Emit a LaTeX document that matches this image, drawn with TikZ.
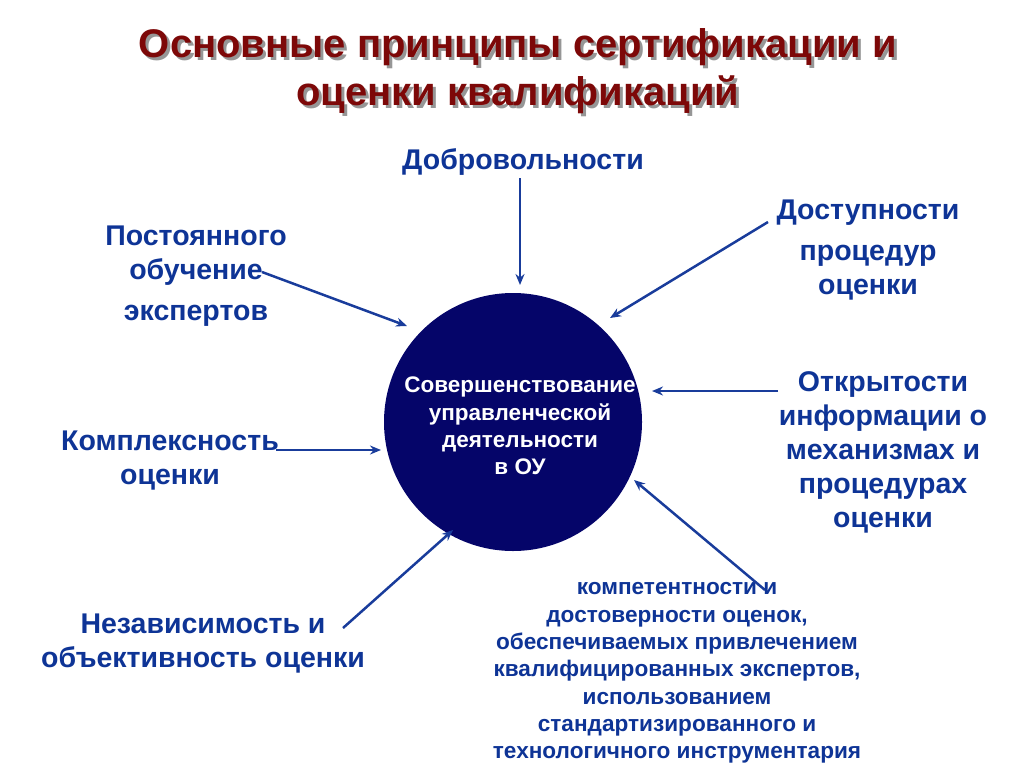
\documentclass[tikz,border=0pt]{standalone}
\usepackage{fontspec}
\setmainfont{Liberation Sans}
\usetikzlibrary{arrows.meta}
\definecolor{titlered}{RGB}{125,8,8}
\definecolor{shadowgray}{RGB}{150,150,150}
\definecolor{txtblue}{RGB}{14,52,150}
\definecolor{navy}{RGB}{5,5,105}
\definecolor{arrblue}{RGB}{25,60,155}
\tikzset{
  lbl/.style={text=txtblue, font=\bfseries\fontsize{28.5}{34}\selectfont, align=center, inner sep=0pt},
  small/.style={text=txtblue, font=\bfseries\fontsize{22.6}{27.3}\selectfont, align=center, inner sep=0pt},
  ttl/.style={font=\bfseries\fontsize{40}{48}\selectfont, align=center, inner sep=0pt},
  arr/.style={arrblue, line width=2.5pt, -{Stealth[length=11pt,width=9pt]}}
}
\begin{document}
\begin{tikzpicture}[x=1pt,y=-1pt]
        \useasboundingbox (0,0) rectangle (1024,768);
        % title
        \node[ttl, text=shadowgray] (titleshadow) at (521,74) {Основные принципы сертификации и\\оценки квалификаций};
        \node[ttl, text=titlered] (title) at (518,71) {Основные принципы сертификации и\\оценки квалификаций};
        % centre
        \node[circle, fill=navy, minimum size=258pt, inner sep=0pt] (ou) at (513,422) {};
        \node[text=white, font=\bfseries\fontsize{22.5}{27.3}\selectfont, align=center, inner sep=0pt] (outext) at (520,426) {Совершенствование\\управленческой\\деятельности\\в ОУ};
        % principles
        \node[lbl] (dobro) at (523,162) {Добровольности};
        \node[lbl] (post) at (196,276) {Постоянного\\обучение\\[7pt]экспертов};
        \node[lbl] (kompl) at (170,461) {Комплексность\\оценки};
        \node[lbl] (nezav) at (203,644) {Независимость и\\объективность оценки};
        \node[lbl] (dostup) at (868,250) {Доступности\\[7pt]процедур\\оценки};
        \node[lbl] (otkr) at (883,452) {Открытости\\информации о\\механизмах и\\процедурах\\оценки};
        \node[small] (komp) at (677,673) {компетентности и\\достоверности оценок,\\обеспечиваемых привлечением\\квалифицированных экспертов,\\использованием\\стандартизированного и\\технологичного инструментария};
        % arrows
        \foreach \n/\sx/\sy/\ex/\ey in {1/520/178/520/285, 2/262/272/407/326, 3/768/222/610/318, 4/276/450/381/450, 5/778/391/652/391, 6/765/590/634/480, 7/343/628/453/530} {
                \coordinate (s\n) at (\sx,\sy);
                \coordinate (e\n) at (\ex,\ey);
                \draw[arr] (s\n) -- (e\n);
            }
    \end{tikzpicture}
\end{document}
